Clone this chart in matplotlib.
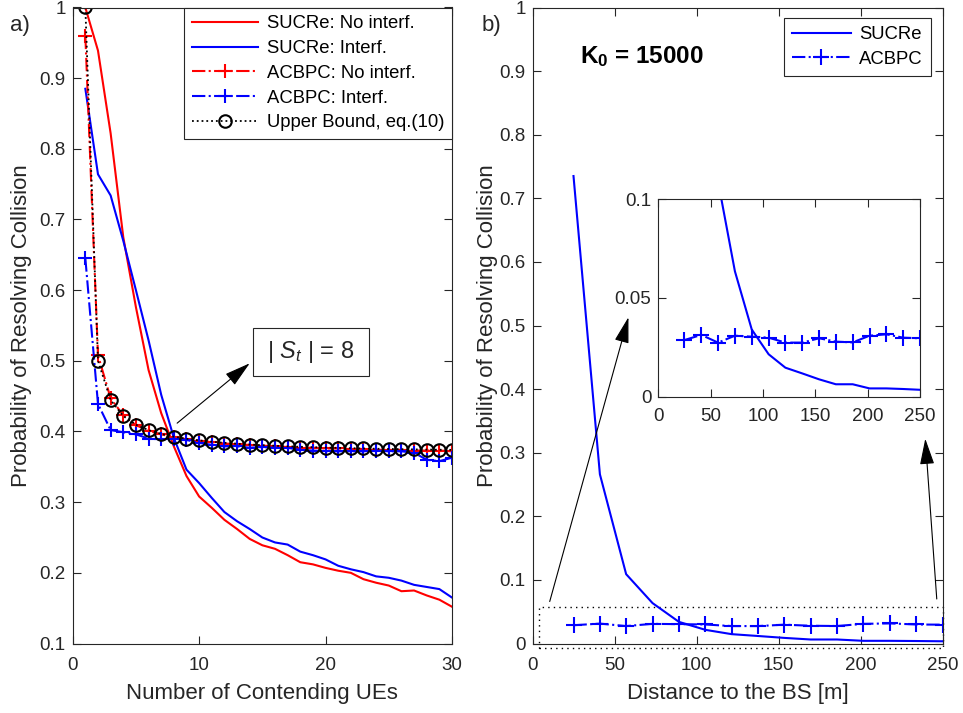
import numpy as np
import matplotlib
matplotlib.use("Agg")
import matplotlib.pyplot as plt
from matplotlib.patches import Rectangle
from matplotlib.ticker import FuncFormatter

plt.rcParams['font.family'] = ['Liberation Sans', 'DejaVu Sans']
plt.rcParams['mathtext.fontset'] = 'custom'
plt.rcParams['mathtext.rm'] = 'Liberation Sans'
plt.rcParams['mathtext.it'] = 'Liberation Sans:italic'
plt.rcParams['mathtext.bf'] = 'Liberation Sans:bold'

# ---------------- data: panel a ----------------
num_ues = list(range(1, 31))
sucre_no_interf = [1.0, 0.939, 0.822, 0.675, 0.576, 0.487, 0.426, 0.379, 0.337, 0.308,
                   0.292, 0.275, 0.262, 0.248, 0.239, 0.234, 0.225, 0.215, 0.212, 0.207,
                   0.203, 0.200, 0.191, 0.186, 0.182, 0.174, 0.175, 0.168, 0.162, 0.152]
sucre_interf = [0.885, 0.764, 0.734, 0.670, 0.600, 0.529, 0.452, 0.391, 0.346, 0.327,
                0.306, 0.286, 0.273, 0.262, 0.250, 0.243, 0.240, 0.230, 0.225, 0.219,
                0.210, 0.205, 0.201, 0.195, 0.193, 0.189, 0.183, 0.180, 0.177, 0.165]
acbpc_no_interf = [0.960, 0.508, 0.447, 0.423, 0.409, 0.401, 0.396, 0.392, 0.389, 0.387,
                   0.385, 0.383, 0.382, 0.381, 0.380, 0.379, 0.378, 0.377, 0.377, 0.376,
                   0.376, 0.375, 0.375, 0.374, 0.374, 0.374, 0.373, 0.373, 0.373, 0.372]
acbpc_interf = [0.645, 0.439, 0.402, 0.399, 0.396, 0.390, 0.389, 0.390, 0.388, 0.384,
                0.381, 0.379, 0.379, 0.377, 0.378, 0.377, 0.377, 0.374, 0.373, 0.372,
                0.372, 0.372, 0.372, 0.373, 0.372, 0.372, 0.370, 0.360, 0.358, 0.363]
upper_bound = [1.0, 0.5, 0.4444, 0.4219, 0.4096, 0.4019, 0.3966, 0.3927, 0.3897, 0.3874,
               0.3855, 0.3840, 0.3827, 0.3816, 0.3806, 0.3798, 0.3790, 0.3784, 0.3778, 0.3773,
               0.3768, 0.3764, 0.3760, 0.3756, 0.3753, 0.3750, 0.3747, 0.3744, 0.3742, 0.3740]

# ---------------- data: panel b ----------------
distance = [25.0, 41.1, 57.1, 73.2, 89.3, 105.4, 121.4, 137.5, 153.6, 169.6,
            185.7, 201.8, 217.9, 233.9, 250.0]
sucre_dist = [0.735, 0.266, 0.109, 0.0635, 0.034, 0.0215, 0.0147, 0.0118, 0.0088, 0.0063,
              0.0063, 0.0042, 0.0042, 0.0039, 0.0035]
acbpc_dist = [0.0287, 0.0313, 0.0274, 0.0309, 0.0304, 0.0299, 0.0274, 0.0274, 0.0296, 0.0279,
              0.0275, 0.0309, 0.0316, 0.0299, 0.0296]

W, H = 963, 713
fig = plt.figure(figsize=(W / 100, H / 100), dpi=100)

AXC = '#262626'

def style(ax, fs=13.5):
    ax.tick_params(direction='in', top=True, right=True, labelsize=fs, colors=AXC,
                   length=6, width=0.8, pad=5)
    ax.tick_params(axis='x', pad=10)
    for s in ax.spines.values():
        s.set_color(AXC)
        s.set_linewidth(0.8)

def gfmt(v, pos):
    return ('%g' % round(v, 4))

top_px, bot_px = 7.5, 643.5
ax1 = fig.add_axes([72.7 / W, (H - bot_px) / H, (452 - 72.7) / W, (bot_px - top_px) / H])
ax2 = fig.add_axes([532.5 / W, (H - bot_px) / H, (942.5 - 532.5) / W, (bot_px - top_px) / H])
ax3 = fig.add_axes([658.3 / W, (H - 396.7) / H, (920 - 658.3) / W, (396.7 - 199.3) / H])

lw = 1.5
arrow_style = '-|>,head_length=0.9,head_width=0.25'
# ---- panel a ----
ax1.plot(num_ues, sucre_no_interf, '-', color='red', lw=lw, label='SUCRe: No interf.')
ax1.plot(num_ues, sucre_interf, '-', color='blue', lw=lw, label='SUCRe: Interf.')
ax1.plot(num_ues, acbpc_no_interf, '-.', color='red', lw=lw, marker='+', ms=10, mew=1.5,
         label='ACBPC: No interf.')
ax1.plot(num_ues, acbpc_interf, '-.', color='blue', lw=lw, marker='+', ms=10, mew=1.5,
         label='ACBPC: Interf.')
ax1.plot(num_ues, upper_bound, ':', color='black', lw=1.3, marker='o', ms=9, mew=1.5,
         mfc='none', label='Upper Bound, eq.(10)')
ax1.set_xlim(0, 30)
ax1.set_ylim(0.1, 1)
ax1.set_xticks([0, 10, 20, 30])
ax1.set_yticks(np.arange(0.1, 1.01, 0.1))
ax1.yaxis.set_major_formatter(FuncFormatter(gfmt))
style(ax1)
ax1.set_xlabel('Number of Contending UEs', fontsize=16, color=AXC, labelpad=6)
ax1.set_ylabel('Probability of Resolving Collision', fontsize=16, color=AXC)
ax1.yaxis.set_label_coords(-0.108, 0.5)
leg1 = ax1.legend(loc='upper right', bbox_to_anchor=(1, 1), borderaxespad=0, fontsize=13.3,
                  handlelength=3.6, fancybox=False, framealpha=1, edgecolor=AXC,
                  labelspacing=0.42, borderpad=0.42, handletextpad=0.45)
leg1.get_frame().set_linewidth(0.8)

ax1.annotate('', xy=(14.0, 0.4965), xytext=(8.26, 0.4118),
             arrowprops=dict(arrowstyle=arrow_style, color='k',
                             lw=0.8, mutation_scale=18, shrinkA=0, shrinkB=0))
ax1.add_patch(Rectangle((14.27, 0.478), 23.4 - 14.27, 0.546 - 0.478, fill=True, fc='white',
                        ec=AXC, lw=0.8, zorder=5))
ax1.text(18.85, 0.512, r'| $S_t$ | = 8', fontsize=17, ha='center', va='center', color=AXC,
         zorder=6)

# ---- panel b ----
ax2.plot(distance, sucre_dist, '-', color='blue', lw=lw, label='SUCRe')
ax2.plot(distance, acbpc_dist, '-.', color='blue', lw=lw, marker='+', ms=11, mew=1.5,
         label='ACBPC')
ax2.set_xlim(0, 250)
ax2.set_ylim(0, 1)
ax2.set_xticks([0, 50, 100, 150, 200, 250])
ax2.set_yticks(np.arange(0, 1.01, 0.1))
ax2.yaxis.set_major_formatter(FuncFormatter(gfmt))
style(ax2)
ax2.set_xlabel('Distance to the BS [m]', fontsize=16, color=AXC, labelpad=6)
ax2.set_ylabel('Probability of Resolving Collision', fontsize=16, color=AXC)
ax2.yaxis.set_label_coords(-0.085, 0.5)
leg2 = ax2.legend(loc='upper right', bbox_to_anchor=(0.971, 0.983), borderaxespad=0,
                  fontsize=13.3, handlelength=3.2, fancybox=False, framealpha=1, edgecolor=AXC,
                  labelspacing=0.42, borderpad=0.42, handletextpad=0.45)
leg2.get_frame().set_linewidth(0.8)
ax2.text(28.7, 0.913, r'$\mathbf{K_0}$ = 15000', fontsize=17.5, fontweight='bold',
         ha='left', va='baseline', color='black')

rect = Rectangle((3.8, -0.0076), 246.5, 0.0646, fill=False, ls=(0, (1, 3)), lw=1.0,
                 ec='black', clip_on=False)
ax2.add_patch(rect)
ax2.annotate('', xy=(58.5, 0.513), xytext=(10.5, 0.066),
             arrowprops=dict(arrowstyle=arrow_style, color='k',
                             lw=0.8, mutation_scale=18, shrinkA=0, shrinkB=0))
ax2.annotate('', xy=(239.5, 0.322), xytext=(246.5, 0.07),
             arrowprops=dict(arrowstyle=arrow_style, color='k',
                             lw=0.8, mutation_scale=18, shrinkA=0, shrinkB=0))

# ---- inset ----
ax3.plot(distance, sucre_dist, '-', color='blue', lw=lw)
ax3.plot(distance, acbpc_dist, '-.', color='blue', lw=lw, marker='+', ms=11, mew=1.5)
ax3.set_xlim(0, 250)
ax3.set_ylim(0, 0.1)
ax3.set_xticks([0, 50, 100, 150, 200, 250])
ax3.set_yticks([0, 0.05, 0.1])
ax3.yaxis.set_major_formatter(FuncFormatter(gfmt))
style(ax3)
ax3.tick_params(axis='x', pad=8)

fig.text(10 / W, 1 - 25 / H, 'a)', fontsize=16, color=AXC, va='center', ha='left')
fig.text(482 / W, 1 - 25 / H, 'b)', fontsize=16, color=AXC, va='center', ha='left')

fig.savefig('out.png', dpi=100)
